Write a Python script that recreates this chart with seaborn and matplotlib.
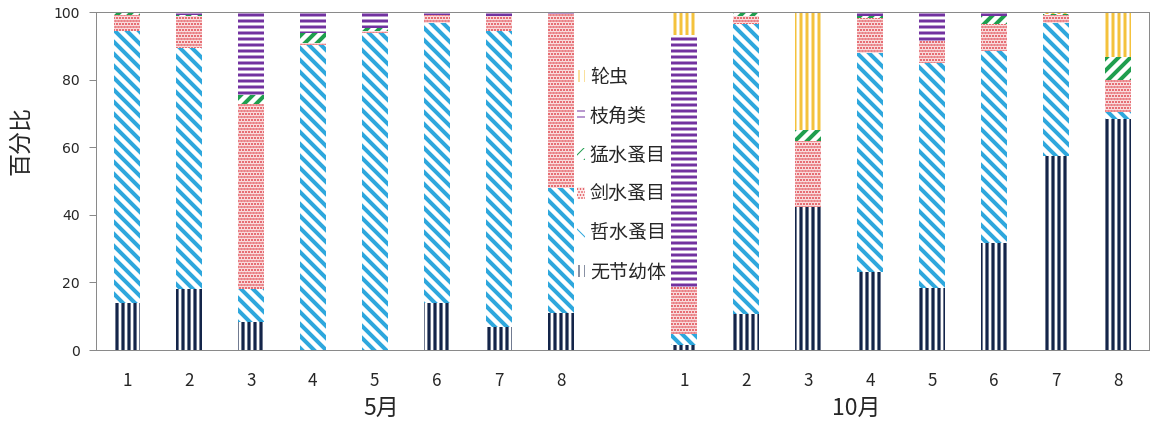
import numpy as np
import pandas as pd
import matplotlib
matplotlib.use("Agg")
import matplotlib.pyplot as plt
import matplotlib.patches as mpatches
import matplotlib.transforms as mtransforms
import seaborn as sns

# ---- data: percentage composition per site (bottom of stack first) ----
months = ["5月", "10月"]
site_labels = ["1", "2", "3", "4", "5", "6", "7", "8"]
groups = ["无节幼体", "哲水蚤目", "剑水蚤目", "猛水蚤目", "枝角类", "轮虫"]

nauplius_may = [13.8, 17.9, 8.3, 0.0, 0.0, 13.8, 6.9, 11.0]
calanoida_may = [80.7, 71.5, 9.6, 90.2, 93.7, 83.0, 87.6, 37.0]
cyclopoida_may = [4.5, 9.3, 55.0, 0.5, 0.7, 2.3, 4.3, 51.5]
harpacticoida_may = [1.0, 0.5, 2.5, 3.0, 0.8, 0.0, 0.0, 0.0]
cladocera_may = [0.0, 0.8, 24.6, 6.3, 4.8, 0.9, 1.2, 0.5]
rotifera_may = [0.0, 0.0, 0.0, 0.0, 0.0, 0.0, 0.0, 0.0]

nauplius_oct = [1.5, 10.7, 42.4, 23.2, 18.2, 31.7, 57.5, 68.3]
calanoida_oct = [3.1, 85.7, 0.0, 64.8, 66.6, 56.8, 39.3, 2.2]
cyclopoida_oct = [14.1, 2.4, 19.5, 10.1, 6.7, 7.9, 2.3, 9.4]
harpacticoida_oct = [0.0, 1.2, 3.2, 0.6, 0.0, 2.4, 0.3, 6.7]
cladocera_oct = [74.5, 0.0, 0.0, 1.3, 8.5, 1.2, 0.0, 0.0]
rotifera_oct = [6.8, 0.0, 34.9, 0.0, 0.0, 0.0, 0.6, 13.4]

# ---- table for seaborn ----
may_sites = [f"{months[0]}-{s}" for s in site_labels]
oct_sites = [f"{months[1]}-{s}" for s in site_labels]
order = may_sites + ["gap"] + oct_sites

df = pd.DataFrame({
    "site": may_sites + oct_sites,
    groups[0]: nauplius_may + nauplius_oct,
    groups[1]: calanoida_may + calanoida_oct,
    groups[2]: cyclopoida_may + cyclopoida_oct,
    groups[3]: harpacticoida_may + harpacticoida_oct,
    groups[4]: cladocera_may + cladocera_oct,
    groups[5]: rotifera_may + rotifera_oct,
})
cum = df[groups].cumsum(axis=1)
for g in groups:
    df["top_" + g] = cum[g]

# ---- styles ----
colors = ["#14254a", "#2ea7dd", "#de3f48", "#1f9e4e", "#7232a0", "#f4c23c"]
hatches = ["||", "\\\\", "....", "//", "--", "||"]
hatch_lw = [3.2, 4.0, 1.7, 4.0, 3.0, 3.0]
faces = ["white", "white", "#fcecec", "white", "white", "white"]

sns.set_theme(style="white")
plt.rcParams["font.family"] = ["Noto Sans CJK SC", "DejaVu Sans"]

W, H = 1152, 425
fig = plt.figure(figsize=(W / 72, H / 72), dpi=72)
ax = fig.add_axes([96 / W, 75 / H, 1053 / W, 338 / H])

# cumulative tops, drawn from the top layer down so lower segments overlay
for i in reversed(range(len(groups))):
    n_before = len(ax.patches)
    with plt.rc_context({"hatch.linewidth": hatch_lw[i]}):
        sns.barplot(data=df, x="site", y="top_" + groups[i], order=order,
                    color=faces[i], saturation=1, width=0.42, errorbar=None,
                    hatch=hatches[i], edgecolor=colors[i], linewidth=0, ax=ax)
    for p in ax.patches[n_before:]:
        if hasattr(p, "set_hatch_linewidth"):
            p.set_hatch_linewidth(hatch_lw[i])

# ---- axes ----
axis_grey = "#8a8a8a"
text_col = "#262626"
ax.set_ylim(0, 100)
ax.set_xlim(-0.5, len(order) - 0.5)
ax.set_yticks(np.arange(0, 101, 20))
ax.set_yticklabels([str(v) for v in range(0, 101, 20)], family="DejaVu Sans")
ax.set_xticks(np.arange(len(order)))
ax.set_xticklabels(site_labels + [""] + site_labels)
ax.set_xticks(np.arange(-0.5, len(order), 1), minor=True)
ax.tick_params(axis="x", which="major", length=0, pad=22, labelsize=17, labelcolor=text_col)
ax.tick_params(axis="x", which="minor", direction="out", length=7, width=1, color=axis_grey)
ax.tick_params(axis="y", which="major", direction="out", length=7, width=1, color=axis_grey,
               pad=9, labelsize=14, labelcolor=text_col, left=True)
ax.grid(False)
for s in ax.spines.values():
    s.set_visible(True)
    s.set_color(axis_grey)
    s.set_linewidth(1)

ax.set_xlabel("")
ax.set_ylabel("百分比", fontsize=23, color=text_col, va="center")
ax.yaxis.set_label_coords(-0.0712, 0.621)

# month labels beneath the site numbers
trans = mtransforms.blended_transform_factory(ax.transData, ax.transAxes)
ax.text(4.1, -0.1716, months[0], transform=trans, ha="center", va="center",
        fontsize=23, color=text_col)
ax.text(11.78, -0.1716, months[1], transform=trans, ha="center", va="center",
        fontsize=23, color=text_col)

# ---- legend ----
handles = []
for i in reversed(range(len(groups))):
    with plt.rc_context({"hatch.linewidth": hatch_lw[i]}):
        h = mpatches.Patch(facecolor=faces[i], edgecolor=colors[i], hatch=hatches[i],
                           linewidth=0, label=groups[i])
    if hasattr(h, "set_hatch_linewidth"):
        h.set_hatch_linewidth(hatch_lw[i])
    handles.append(h)
leg = ax.legend(handles=handles, loc="center left", bbox_to_anchor=(0.4568, 0.519),
                frameon=False, fontsize=19, handlelength=0.42, handleheight=0.6,
                handletextpad=0.26, labelspacing=0.95, borderpad=0, borderaxespad=0)
for t in leg.get_texts():
    t.set_color(text_col)

fig.savefig("out.png", dpi=72)
